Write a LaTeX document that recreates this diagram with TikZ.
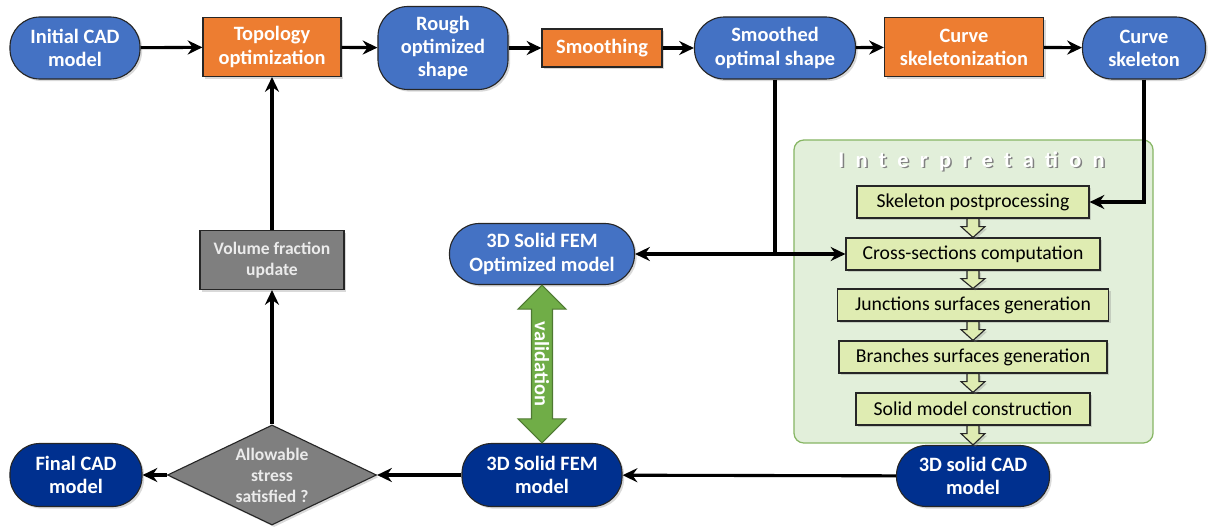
\documentclass[tikz,border=0pt]{standalone}
\usepackage{fontspec}
\setmainfont{Carlito}
\newfontfamily\spacedfont[LetterSpace=50]{Carlito}
\usetikzlibrary{positioning, calc, shapes.geometric, arrows.meta, shadows}

\definecolor{stepblue}{RGB}{68,114,196}
\definecolor{steporange}{RGB}{237,125,49}
\definecolor{stepnavy}{RGB}{0,48,143}
\definecolor{stepgray}{RGB}{127,127,127}
\definecolor{stepgreen}{RGB}{112,173,71}
\definecolor{boxgreen}{RGB}{223,236,178}
\definecolor{interpfill}{RGB}{226,239,218}
\definecolor{interpline}{RGB}{135,182,100}

\begin{document}
\begin{tikzpicture}[x=0.025cm, y=-0.025cm,
  >={Stealth[length=10.5pt, width=10pt, inset=3.5pt]},
  every node/.style={inner sep=0pt, align=center},
  shade/.style={drop shadow={shadow xshift=1.5pt, shadow yshift=-1.5pt, opacity=0.3}},
  pill/.style={draw=black!85, line width=0.8pt, rounded corners=0.75cm, fill=stepblue,
    text=white, font=\bfseries\fontsize{14.5}{16.5}\selectfont, shade},
  navypill/.style={pill, fill=stepnavy},
  task/.style={draw=black!85, line width=0.8pt, fill=steporange, text=white,
    font=\bfseries\fontsize{14.5}{16.5}\selectfont, shade},
  graybox/.style={draw=black!85, line width=0.8pt, fill=stepgray, text=black!8,
    font=\bfseries\fontsize{12.5}{15}\selectfont, shade},
  subtask/.style={draw=black!85, line width=0.8pt, fill=boxgreen, text=black,
    font=\fontsize{14}{15}\selectfont, minimum height=0.8cm, shade},
  flow/.style={line width=2.2pt, ->},
  blockarr/.style={draw=black!85, line width=0.8pt, fill=boxgreen, shade}]

\useasboundingbox (0,0) rectangle (1208,526);

% top row
\node[pill, minimum width=3.25cm, minimum height=1.55cm] (init) at (75,48) {Initial CAD\\model};
\node[task, minimum width=3.45cm, minimum height=1.475cm] (topo) at (272,47) {Topology\\optimization};
\node[pill, minimum width=3.25cm, minimum height=2.075cm] (rough) at (443,48) {Rough\\optimized\\shape};
\node[task, minimum width=3cm, minimum height=0.95cm] (smoothing) at (602,48) {Smoothing};
\node[pill, minimum width=4.025cm, minimum height=1.55cm] (smoothed) at (775,48) {Smoothed\\optimal shape};
\node[task, minimum width=3.975cm, minimum height=1.475cm] (skelz) at (964,47) {Curve\\skeletonization};
\node[pill, minimum width=3.075cm, minimum height=1.55cm] (curveskel) at (1144,48) {Curve\\skeleton};

% interpretation block
\node[draw=interpline, line width=0.9pt, fill=interpfill, rounded corners=0.25cm,
  minimum width=8.975cm, minimum height=7.575cm] (interp) at (973.5,291.5) {};
\node[text=black!50, font=\spacedfont\bfseries\fontsize{16}{16}\selectfont] (titleshade)
  at ($(interp.north)+(-0.5,23.5)$) {Interpretation};
\node[text=white, font=\spacedfont\bfseries\fontsize{16}{16}\selectfont] (title)
  at ($(interp.north)+(-2,22)$) {Interpretation};

\node[subtask, minimum width=5.8cm] (skelpost) at (973,202) {Skeleton postprocessing};
\node[subtask, minimum width=6.35cm] (cross) at (973,254) {Cross-sections computation};
\node[subtask, minimum width=6.775cm] (junc) at (973,305) {Junctions surfaces generation};
\node[subtask, minimum width=6.7cm] (branch) at (973,357) {Branches surfaces generation};
\node[subtask, minimum width=5.85cm] (solidcon) at (973,409) {Solid model construction};

% bottom part
\node[navypill, minimum width=3.825cm, minimum height=1.525cm] (cadsolid) at (973,476) {3D solid CAD\\model};
\node[navypill, minimum width=4cm, minimum height=1.575cm] (fem) at (542,475) {3D Solid FEM\\model};
\node[navypill, minimum width=3.3cm, minimum height=1.575cm] (final) at (76,475) {Final CAD\\model};
\node[diamond, draw=black!85, line width=0.8pt, fill=stepgray, text=black!8, shade,
  aspect=2.09, minimum width=5.225cm, minimum height=2.5cm,
  font=\bfseries\fontsize{12.5}{15}\selectfont] (check) at (272,475) {Allowable\\stress\\satisfied ?};
\node[graybox, minimum width=3.6cm, minimum height=1.475cm] (vol) at (272,260) {Volume fraction\\update};
\node[pill, minimum width=4.625cm, minimum height=1.525cm] (femopt) at (542,254) {3D Solid FEM\\Optimized model};

% small block arrows
\foreach \a/\b in {skelpost/cross, cross/junc, junc/branch, branch/solidcon, solidcon/cadsolid}
  \path[blockarr] ($(\a.south)+(-6,0)$) -- ++(0,8) -- ++(-6,0) -- (\b.north)
    -- ($(\a.south)+(12,8)$) -- ++(-6,0) -- ++(0,-8) -- cycle;

% validation arrow
\path[draw=stepgreen!70!black, line width=0.8pt, fill=stepgreen]
  (femopt.south) -- ++(24,24) -- ++(-13.5,0) -- ($(fem.north)+(10.5,-24)$) -- ++(13.5,0)
  -- (fem.north) -- ++(-24,-24) -- ++(13.5,0) -- ($(femopt.south)+(-10.5,24)$) -- ++(-13.5,0) -- cycle;
\node[rotate=-90, text=white, font=\bfseries\fontsize{14.5}{14.5}\selectfont] (validlbl)
  at ($(femopt.south)!0.5!(fem.north)$) {validation};

% connectors
\draw[flow] (init) -- (topo);
\draw[flow] (topo) -- (rough);
\draw[flow] (rough) -- (smoothing);
\draw[flow] (smoothing) -- (smoothed);
\draw[flow] (smoothed) -- (skelz);
\draw[flow] (skelz) -- (curveskel);
\draw[flow] (curveskel.south) |- (skelpost.east);
\draw[line width=2.2pt] (smoothed.south) -- (smoothed.south |- cross.west);
\draw[flow, <->] (femopt.east) -- (cross.west);
\draw[flow] (cadsolid) -- (fem);
\draw[flow] (fem) -- (check);
\draw[flow] (check) -- (final);
\draw[flow] (check) -- (vol);
\draw[flow] (vol) -- (topo);
\end{tikzpicture}
\end{document}
